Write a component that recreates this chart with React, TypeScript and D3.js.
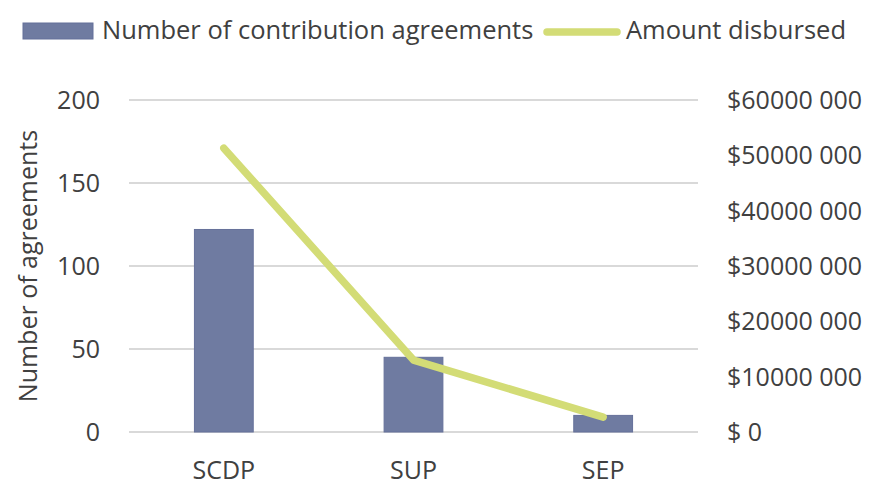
import { useEffect, useRef } from "react"
import * as d3 from "d3"

const categories = ["SCDP", "SUP", "SEP"]
const agreements = [122, 45, 10]
const disbursed = [51300000, 13000000, 2700000]
const leftTicks = [0, 50, 100, 150, 200]
const rightTicks = [0, 10000000, 20000000, 30000000, 40000000, 50000000, 60000000]

const barColor = "#6f7ba1"
const lineColor = "#d3dc76"
const textColor = "#404040"
const gridColor = "#d9d9d9"
const font = "'Open Sans', sans-serif"

function formatMoney(v: number) {
  if (v === 0) return "$ 0"
  const thousands = Math.floor(v / 1000)
  const rest = String(v % 1000).padStart(3, "0")
  return `$${thousands} ${rest}`
}

export default function App() {
  const svgRef = useRef<SVGSVGElement>(null)

  useEffect(() => {
    document.body.style.margin = "0"
    if (!svgRef.current) return
    const svg = d3.select(svgRef.current)
    svg.selectAll("*").remove()

    const left = 129
    const right = 698
    const top = 100
    const bottom = 432

    const x = d3.scaleBand().domain(categories).range([left, right]).padding(0)
    const yLeft = d3.scaleLinear().domain([0, 200]).range([bottom, top])
    const yRight = d3.scaleLinear().domain([0, 60000000]).range([bottom, top])

    // gridlines
    svg
      .append("g")
      .selectAll("line")
      .data(leftTicks)
      .enter()
      .append("line")
      .attr("x1", left)
      .attr("x2", right)
      .attr("y1", (d) => yLeft(d))
      .attr("y2", (d) => yLeft(d))
      .attr("stroke", gridColor)
      .attr("stroke-width", 2)

    // left tick labels
    svg
      .append("g")
      .selectAll("text")
      .data(leftTicks)
      .enter()
      .append("text")
      .attr("x", 100)
      .attr("y", (d) => yLeft(d))
      .attr("dy", "0.36em")
      .attr("text-anchor", "end")
      .attr("font-family", font)
      .attr("font-size", 25)
      .attr("fill", textColor)
      .text((d) => d)

    // right tick labels
    svg
      .append("g")
      .selectAll("text")
      .data(rightTicks)
      .enter()
      .append("text")
      .attr("x", 727)
      .attr("y", (d) => yRight(d))
      .attr("dy", "0.36em")
      .attr("text-anchor", "start")
      .attr("font-family", font)
      .attr("font-size", 25)
      .attr("fill", textColor)
      .text((d) => formatMoney(d))

    // bars
    const barW = x.bandwidth() * 0.31
    svg
      .append("g")
      .selectAll("rect")
      .data(agreements)
      .enter()
      .append("rect")
      .attr("x", (_, i) => x(categories[i])! + x.bandwidth() / 2 - barW / 2)
      .attr("y", (d) => yLeft(d))
      .attr("width", barW)
      .attr("height", (d) => bottom - yLeft(d))
      .attr("fill", barColor)
      .attr("stroke", "#65719a")
      .attr("stroke-width", 1)

    // category labels
    svg
      .append("g")
      .selectAll("text")
      .data(categories)
      .enter()
      .append("text")
      .attr("x", (d) => x(d)! + x.bandwidth() / 2)
      .attr("y", 479)
      .attr("text-anchor", "middle")
      .attr("font-family", font)
      .attr("font-size", 25)
      .attr("fill", textColor)
      .text((d) => d)

    // line
    const line = d3
      .line<number>()
      .x((_, i) => x(categories[i])! + x.bandwidth() / 2)
      .y((d) => yRight(d))
    svg
      .append("path")
      .datum(disbursed)
      .attr("d", line)
      .attr("fill", "none")
      .attr("stroke", lineColor)
      .attr("stroke-width", 7.5)
      .attr("stroke-linecap", "round")
      .attr("stroke-linejoin", "round")

    // left axis title
    svg
      .append("text")
      .attr("transform", `translate(37, ${(top + bottom) / 2}) rotate(-90)`)
      .attr("text-anchor", "middle")
      .attr("font-family", font)
      .attr("font-size", 25)
      .attr("fill", textColor)
      .text("Number of agreements")

    // legend
    const legend = svg.append("g")
    legend
      .append("rect")
      .attr("x", 23)
      .attr("y", 23)
      .attr("width", 70)
      .attr("height", 16)
      .attr("fill", barColor)
      .attr("stroke", "#65719a")
    legend
      .append("text")
      .attr("x", 102)
      .attr("y", 39)
      .attr("font-family", font)
      .attr("font-size", 25.5)
      .attr("fill", textColor)
      .text("Number of contribution agreements")
    legend
      .append("line")
      .attr("x1", 547)
      .attr("x2", 617)
      .attr("y1", 32)
      .attr("y2", 32)
      .attr("stroke", lineColor)
      .attr("stroke-width", 7.5)
      .attr("stroke-linecap", "round")
    legend
      .append("text")
      .attr("x", 626)
      .attr("y", 39)
      .attr("font-family", font)
      .attr("font-size", 25.5)
      .attr("fill", textColor)
      .text("Amount disbursed")
  }, [])

  return (
    <svg
      ref={svgRef}
      width={880}
      height={495}
      style={{ display: "block", position: "absolute", left: 0, top: 0, background: "#fff" }}
    />
  )
}
